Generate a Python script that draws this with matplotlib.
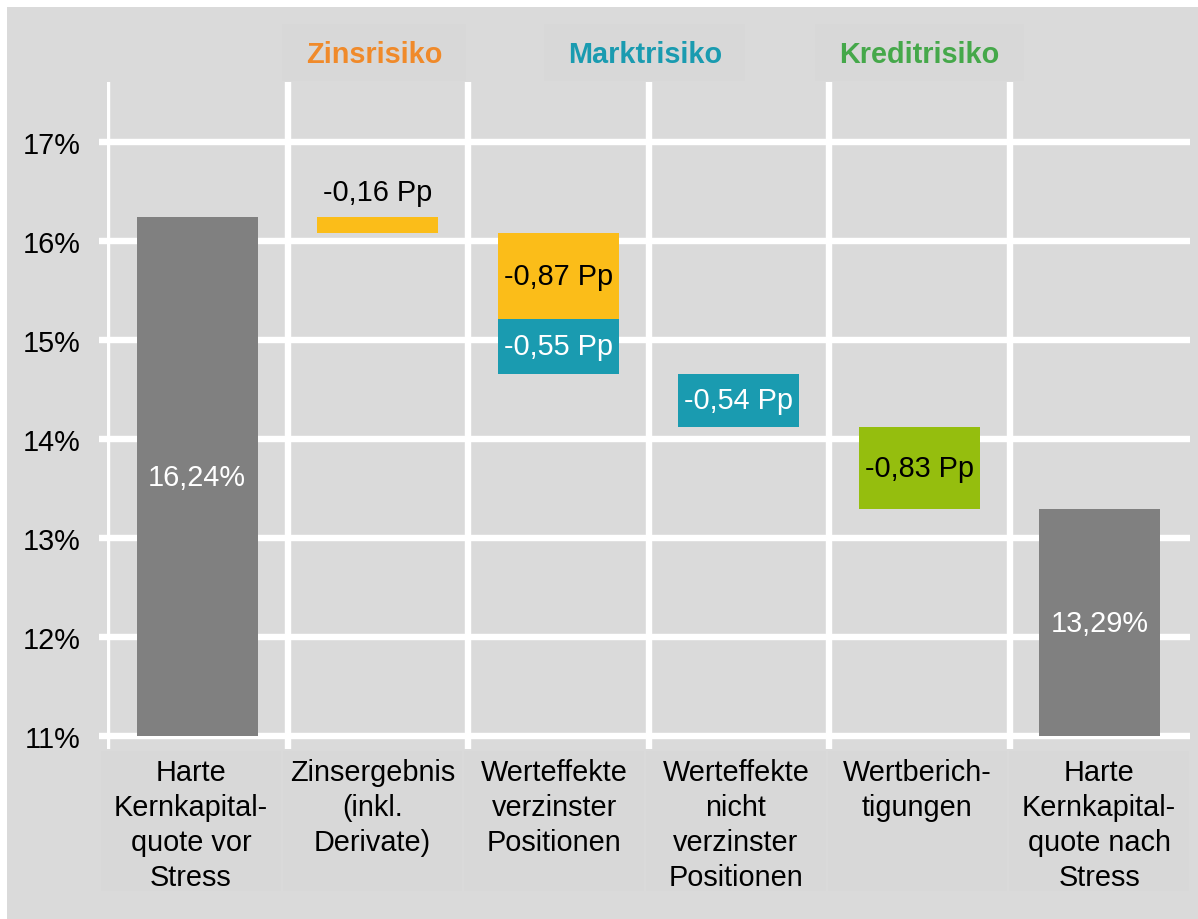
import matplotlib
matplotlib.use("Agg")
import matplotlib.pyplot as plt
import matplotlib.transforms as mtransforms
from matplotlib.patches import Rectangle

plt.rcParams['font.family'] = ['Liberation Sans', 'DejaVu Sans']

categories = ['Harte\nKernkapital-\nquote vor\nStress',
              'Zinsergebnis\n(inkl.\nDerivate)',
              'Werteffekte\nverzinster\nPositionen',
              'Werteffekte\nnicht\nverzinster\nPositionen',
              'Wertberich-\ntigungen',
              'Harte\nKernkapital-\nquote nach\nStress']
start_value = 16.24
end_value = 13.29
step_pos = [1, 2, 2, 3, 4]
step_delta = [-0.16, -0.87, -0.55, -0.54, -0.83]
step_risk = ['Zins', 'Zins', 'Markt', 'Markt', 'Kredit']
risk_names = ['Zinsrisiko', 'Marktrisiko', 'Kreditrisiko']
risk_keys = ['Zins', 'Markt', 'Kredit']
yticks = [11, 12, 13, 14, 15, 16, 17]

bar_col = {'Zins': '#fbbd19', 'Markt': '#1a9bb0', 'Kredit': '#95be0e'}
txt_col = {'Zins': 'black', 'Markt': 'white', 'Kredit': 'black'}
head_col = {'Zins': '#f08a2a', 'Markt': '#1a9bb0', 'Kredit': '#45a84a'}
grey_bar = '#808080'
panel = '#dadada'
boxc = '#d8d8d8'
fs = 20.8

W, H = 1198, 920
fig = plt.figure(figsize=(W / 100, H / 100), dpi=100)
fig.patch.set_facecolor('white')
fig.add_artist(Rectangle((7 / W, 0), (W - 7) / W, (H - 8) / H, transform=fig.transFigure,
                         facecolor=panel, edgecolor='none', zorder=0))

ax = fig.add_axes([107 / W, (H - 750) / H, (1190 - 107) / W, (750 - 83) / H])
ax.patch.set_visible(False)
for s in ax.spines.values():
    s.set_visible(False)

ax.set_xlim(-0.5, 5.5)
ax.set_ylim(11 - 13 / 99, 11 + 654 / 99)

# grid
for y in yticks:
    ax.axhline(y, color='white', lw=4.6, zorder=1)
for x in [-0.5, 0.5, 1.5, 2.5, 3.5, 4.5]:
    ax.axvline(x, color='white', lw=4.6, zorder=1)

ax.set_yticks(yticks)
ax.set_yticklabels([f'{y}%' for y in yticks], fontsize=fs)
ax.tick_params(axis='y', length=5.8, width=4.6, color='white', pad=13.5)
ax.set_xticks([])

bw = 0.67
# start and end bars
ax.bar(0, start_value - 11, bottom=11, width=bw, color=grey_bar, zorder=3)
ax.bar(5, end_value - 11, bottom=11, width=bw, color=grey_bar, zorder=3)
for x, v in [(0, start_value), (5, end_value)]:
    ax.text(x, (11 + v) / 2, f'{v:.2f}%'.replace('.', ','), ha='center', va='center',
            color='white', fontsize=fs, zorder=4)

level = start_value
for p, d, r in zip(step_pos, step_delta, step_risk):
    ax.bar(p, d, bottom=level, width=bw, color=bar_col[r], zorder=3)
    lab = f'{d:.2f} Pp'.replace('.', ',')
    if abs(d) < 0.3:
        ax.annotate(lab, (p, level), xytext=(0, 8), textcoords='offset points',
                    ha='center', va='bottom', fontsize=fs, color='black', zorder=4)
    else:
        ax.text(p, level + d / 2, lab, ha='center', va='center', fontsize=fs,
                color=txt_col[r], zorder=4)
    level += d

# risk headers
trans = mtransforms.blended_transform_factory(ax.transData, ax.transAxes)
head_x = [0.98, 2.48, 4.0]
head_w = [1.02, 1.114, 1.158]
y0 = (750 - 82) / 667
y1 = (750 - 25) / 667
for k, name, hx, hw in zip(risk_keys, risk_names, head_x, head_w):
    ax.add_patch(Rectangle((hx - hw / 2, y0), hw, y1 - y0, transform=trans,
                           facecolor=boxc, edgecolor='none', clip_on=False, zorder=2))
    ax.text(hx, (y0 + y1) / 2 - 0.002, name, transform=trans, ha='center', va='center',
            fontsize=fs, fontweight='bold', color=head_col[k])

# category label boxes
left = (100 - 107) / 180.5 - 0.5
cw = (5.5 - left) / 6
b0 = (750 - 892) / 667
b1 = (750 - 752) / 667
for i, c in enumerate(categories):
    cx = left + cw * (i + 0.5)
    ax.add_patch(Rectangle((left + cw * i + 0.006, b0), cw - 0.012, b1 - b0, transform=trans,
                           facecolor=boxc, edgecolor='none', clip_on=False, zorder=2))
    ax.text(cx, b1 - 0.01, c, transform=trans, ha='center', va='top',
            fontsize=fs, linespacing=1.33)

fig.savefig('out.png', dpi=100, facecolor=fig.get_facecolor())
